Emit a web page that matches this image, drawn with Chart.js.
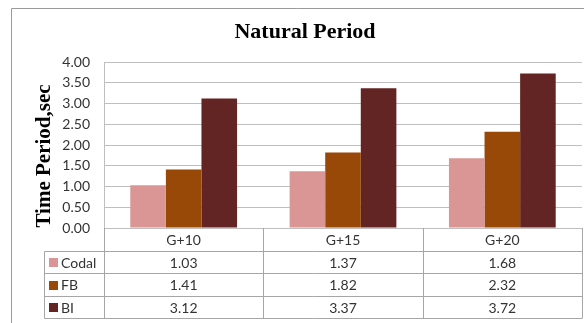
<!DOCTYPE html>
<html>
<head>
<meta charset="utf-8">
<script src="https://cdn.jsdelivr.net/npm/chart.js@4.4.0/dist/chart.umd.min.js"></script>
<style>
html,body{margin:0;padding:0;background:#fff;}
canvas{display:block;}
</style>
</head>
<body>
<canvas id="c" width="584" height="323"></canvas>
<script>
const categories = ['G+10', 'G+15', 'G+20'];
const seriesNames = ['Codal', 'FB', 'BI'];
const codal = [1.03, 1.37, 1.68];
const fb = [1.41, 1.82, 2.32];
const bi = [3.12, 3.37, 3.72];
const yTickValues = [0, 0.5, 1, 1.5, 2, 2.5, 3, 3.5, 4];
const titleText = 'Natural Period';
const yTitleText = 'Time Period,sec';

const colors = ['#D99694', '#984807', '#632523'];
const seriesData = [codal, fb, bi];
const labelFont = '14px Lato';
const textColor = '#333333';
const lineColor = '#a6a6a6';

const tablePlugin = {
  id: 'tablePlugin',
  beforeDraw(chart) {
    const ctx = chart.ctx;
    ctx.save();
    ctx.fillStyle = '#ffffff';
    ctx.fillRect(0, 0, chart.width, chart.height);
    ctx.restore();
  },
  afterDraw(chart) {
    const ctx = chart.ctx;
    const ca = chart.chartArea;
    const xs = chart.scales.x;
    ctx.save();
    // outer border
    ctx.strokeStyle = '#9a9a9a';
    ctx.lineWidth = 1;
    ctx.beginPath();
    ctx.moveTo(11.5, chart.height);
    ctx.lineTo(11.5, 8.5);
    ctx.lineTo(chart.width, 8.5);
    ctx.stroke();

    // title
    ctx.fillStyle = '#000';
    ctx.font = 'bold 22px "Liberation Serif"';
    ctx.textAlign = 'center';
    ctx.textBaseline = 'middle';
    ctx.fillText(titleText, 305, 32);

    // y title
    ctx.save();
    ctx.translate(45, 156);
    ctx.rotate(-Math.PI / 2);
    ctx.font = 'bold 21px "Liberation Serif"';
    ctx.fillText(yTitleText, 0, 0);
    ctx.restore();

    // data table
    const rowH = [ca.bottom, 251, 273, 296, 318];
    const left = ca.left, right = ca.right;
    const n = categories.length;
    const colW = (right - left) / n;
    const legendLeft = 44;
    ctx.strokeStyle = lineColor;
    ctx.lineWidth = 1;
    ctx.beginPath();
    // horizontal lines
    for (let i = 1; i < rowH.length; i++) {
      const y = Math.round(rowH[i]) + 0.5;
      ctx.moveTo(legendLeft + 0.5, y);
      ctx.lineTo(right, y);
    }
    // vertical lines
    for (let j = 0; j <= n; j++) {
      const x = Math.round(left + j * colW) + 0.5;
      ctx.moveTo(x, ca.bottom);
      ctx.lineTo(x, rowH[rowH.length - 1] + 0.5);
    }
    ctx.moveTo(legendLeft + 0.5, rowH[1] + 0.5);
    ctx.lineTo(legendLeft + 0.5, rowH[rowH.length - 1] + 0.5);
    ctx.stroke();

    ctx.font = labelFont;
    ctx.fillStyle = textColor;
    ctx.textAlign = 'center';
    ctx.textBaseline = 'middle';
    for (let j = 0; j < n; j++) {
      const cx = xs.getPixelForValue(j);
      ctx.fillText(categories[j], cx, (rowH[0] + rowH[1]) / 2 + 1);
      for (let s = 0; s < seriesData.length; s++) {
        const cy = (rowH[s + 1] + rowH[s + 2]) / 2 + 1;
        ctx.fillText(seriesData[s][j].toFixed(2), cx, cy);
      }
    }
    ctx.textAlign = 'left';
    for (let s = 0; s < seriesNames.length; s++) {
      const cy = (rowH[s + 1] + rowH[s + 2]) / 2;
      ctx.fillStyle = colors[s];
      ctx.fillRect(49, Math.round(cy) - 4, 9, 9);
      ctx.fillStyle = textColor;
      ctx.fillText(seriesNames[s], 61, cy + 1);
    }
    ctx.restore();
  }
};

new Chart(document.getElementById('c'), {
  type: 'bar',
  data: {
    labels: categories,
    datasets: seriesNames.map((name, i) => ({
      label: name,
      data: seriesData[i],
      backgroundColor: colors[i],
      borderWidth: 0,
      barPercentage: 1,
      categoryPercentage: 0.67
    }))
  },
  options: {
    responsive: false,
    animation: false,
    devicePixelRatio: 1,
    layout: { padding: { top: 62, bottom: 95, left: 0, right: 2 } },
    plugins: {
      legend: { display: false },
      title: { display: false },
      tooltip: { enabled: false }
    },
    scales: {
      x: {
        display: false
      },
      y: {
        min: 0,
        max: 4,
        afterBuildTicks(scale) {
          scale.ticks = yTickValues.map(v => ({ value: v }));
        },
        afterFit(scale) { scale.width = 104; },
        ticks: {
          padding: 14,
          color: textColor,
          font: { family: 'Lato', size: 14 },
          callback: v => Number(v).toFixed(2)
        },
        grid: { color: '#bfbfbf', drawTicks: false, lineWidth: 1 },
        border: { display: true, color: '#bfbfbf' }
      }
    }
  },
  plugins: [tablePlugin]
});
</script>
</body>
</html>
